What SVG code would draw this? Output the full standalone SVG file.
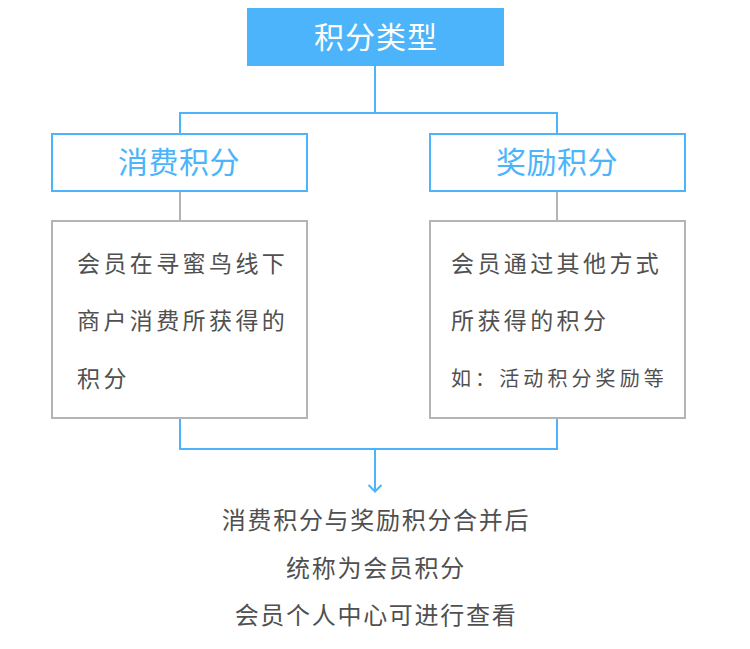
<svg xmlns="http://www.w3.org/2000/svg" width="750" height="649" viewBox="0 0 750 649">
<style>
text{font-family:"Noto Sans CJK SC","Noto Sans",sans-serif}
.blue{fill:none;stroke:#4cb4fb;stroke-width:2}
.gray{fill:none;stroke:#b4b4b4;stroke-width:2}
.box{fill:#fff}
.body{font-size:23px;fill:#505050;letter-spacing:3.4px}
.head{font-size:30px;fill:#4cb4fb;text-anchor:middle;letter-spacing:0.5px}
.foot{font-size:24px;fill:#505050;text-anchor:middle;letter-spacing:1.7px}
</style>
<rect width="750" height="649" fill="#fff"/>
<g id="connectors">
<path class="blue" d="M375 66V113M180 134V113H557V134"/>
<path class="gray" d="M180 191V221M557 191V221"/>
<path class="blue" d="M180 418V449H557V418M375 449V491"/>
<path class="blue" d="M368.5 485L375 491.5L381.5 485"/>
</g>
<g id="root">
<rect x="247" y="8" width="257" height="58" fill="#4cb4fb"/>
<text x="376" y="48" font-size="30" fill="#fff" text-anchor="middle" letter-spacing="1">积分类型</text>
</g>
<g id="consume">
<rect class="box blue" x="52" y="134" width="255" height="57"/>
<text class="head" x="179" y="173">消费积分</text>
</g>
<g id="reward">
<rect class="box blue" x="430" y="134" width="255" height="57"/>
<text class="head" x="557" y="173">奖励积分</text>
</g>
<g id="consume-desc">
<rect class="box gray" x="52" y="221" width="255" height="197"/>
<text class="body" x="77" y="272">会员在寻蜜鸟线下</text>
<text class="body" x="77" y="329">商户消费所获得的</text>
<text class="body" x="77" y="387">积分</text>
</g>
<g id="reward-desc">
<rect class="box gray" x="430" y="221" width="255" height="197"/>
<text class="body" x="451" y="272">会员通过其他方式</text>
<text class="body" x="451" y="329">所获得的积分</text>
<text class="body" x="451" y="386" style="font-size:20px;letter-spacing:4.1px">如：活动积分奖励等</text>
</g>
<g id="summary">
<text class="foot" x="376" y="529">消费积分与奖励积分合并后</text>
<text class="foot" x="376" y="577">统称为会员积分</text>
<text class="foot" x="376" y="624">会员个人中心可进行查看</text>
</g>
</svg>
